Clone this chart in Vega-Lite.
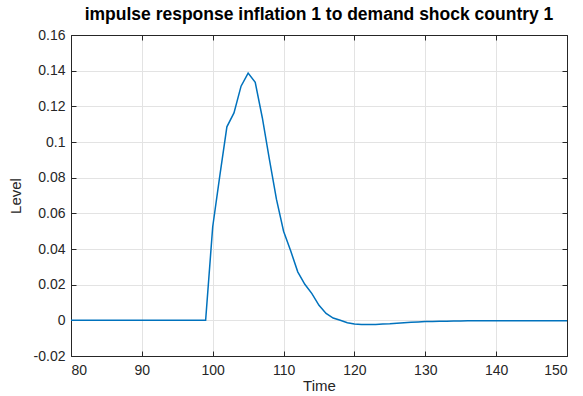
{
  "$schema": "https://vega.github.io/schema/vega-lite/v6.json",
  "width": 496,
  "height": 321,
  "autosize": "none",
  "padding": {"left": 71, "top": 35, "right": 16, "bottom": 40},
  "background": "white",
  "title": {"text": "impulse response inflation 1 to demand shock country 1", "font": "Liberation Sans", "fontSize": 17.5, "fontWeight": "bold", "color": "#000000", "offset": 5, "anchor": "middle"},
  "config": {
    "view": {"stroke": "#262626", "strokeWidth": 1},
    "axis": {"labelFont": "Liberation Sans", "titleFont": "Liberation Sans", "labelFontSize": 14, "titleFontSize": 15, "titleFontWeight": "normal", "labelColor": "#262626", "titleColor": "#262626", "domainColor": "#262626", "tickColor": "#262626", "gridColor": "#e3e3e3", "gridWidth": 1, "tickSize": -5, "domainWidth": 1}
  },
  "data": {"values": [
    {"t":80,"v":0},{"t":81,"v":0},{"t":82,"v":0},{"t":83,"v":0},{"t":84,"v":0},{"t":85,"v":0},{"t":86,"v":0},{"t":87,"v":0},{"t":88,"v":0},{"t":89,"v":0},
    {"t":90,"v":0},{"t":91,"v":0},{"t":92,"v":0},{"t":93,"v":0},{"t":94,"v":0},{"t":95,"v":0},{"t":96,"v":0},{"t":97,"v":0},{"t":98,"v":0},{"t":99,"v":0},
    {"t":100,"v":0.0525},{"t":101,"v":0.081},{"t":102,"v":0.1085},{"t":103,"v":0.1163},{"t":104,"v":0.1313},{"t":105,"v":0.1386},{"t":106,"v":0.1335},{"t":107,"v":0.1136},{"t":108,"v":0.0902},{"t":109,"v":0.0678},
    {"t":110,"v":0.0500},{"t":111,"v":0.0390},{"t":112,"v":0.0272},{"t":113,"v":0.0202},{"t":114,"v":0.0150},{"t":115,"v":0.0084},{"t":116,"v":0.0039},{"t":117,"v":0.0013},{"t":118,"v":0.0},{"t":119,"v":-0.0013},
    {"t":120,"v":-0.0021},{"t":121,"v":-0.0023},{"t":122,"v":-0.0024},{"t":123,"v":-0.0023},{"t":124,"v":-0.0021},{"t":125,"v":-0.0019},{"t":126,"v":-0.0016},{"t":127,"v":-0.0013},{"t":128,"v":-0.0011},{"t":129,"v":-0.0009},
    {"t":130,"v":-0.0007},{"t":131,"v":-0.0006},{"t":132,"v":-0.0005},{"t":133,"v":-0.0005},{"t":134,"v":-0.0004},{"t":135,"v":-0.0004},{"t":136,"v":-0.0003},{"t":137,"v":-0.0003},{"t":138,"v":-0.0003},{"t":139,"v":-0.0002},
    {"t":140,"v":-0.0002},{"t":141,"v":-0.0002},{"t":142,"v":-0.0002},{"t":143,"v":-0.0002},{"t":144,"v":-0.0002},{"t":145,"v":-0.0002},{"t":146,"v":-0.0002},{"t":147,"v":-0.0002},{"t":148,"v":-0.0002},{"t":149,"v":-0.0002},{"t":150,"v":-0.0002}
  ]},
  "resolve": {"axis": {"x": "independent", "y": "independent"}},
  "layer": [
    {
      "mark": {"type": "line", "color": "#0072BD", "strokeWidth": 1.5},
      "encoding": {
        "x": {"field": "t", "type": "quantitative", "scale": {"domain": [80, 150], "nice": false, "zero": false}, "axis": {"orient": "bottom", "grid": true, "title": "Time", "titlePadding": 1, "labelPadding": 12, "values": [80,90,100,110,120,130,140,150]}},
        "y": {"field": "v", "type": "quantitative", "scale": {"domain": [-0.02, 0.16], "nice": false, "zero": false}, "axis": {"orient": "left", "grid": true, "title": "Level", "titlePadding": 10, "labelPadding": 11, "values": [-0.02,0,0.02,0.04,0.06,0.08,0.1,0.12,0.14,0.16], "labelExpr": "replace(format(datum.value, '~g'), '\u2212', '-')"}}
      }
    },
    {
      "mark": {"type": "line", "opacity": 0},
      "encoding": {
        "x": {"field": "t", "type": "quantitative", "scale": {"domain": [80, 150], "nice": false, "zero": false}, "axis": {"orient": "top", "labels": false, "title": null, "grid": false, "values": [80,90,100,110,120,130,140,150]}},
        "y": {"field": "v", "type": "quantitative", "scale": {"domain": [-0.02, 0.16], "nice": false, "zero": false}, "axis": {"orient": "right", "labels": false, "title": null, "grid": false, "values": [-0.02,0,0.02,0.04,0.06,0.08,0.1,0.12,0.14,0.16]}}
      }
    }
  ]
}
